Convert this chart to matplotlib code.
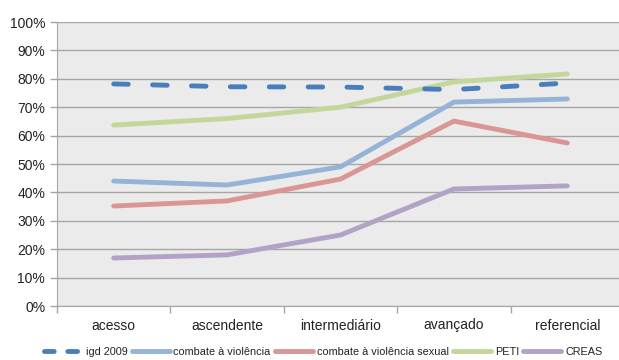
import matplotlib
matplotlib.use("Agg")
import matplotlib.pyplot as plt
from matplotlib.ticker import PercentFormatter

categories = ["acesso", "ascendente", "intermediário", "avançado", "referencial"]
igd_2009 = [0.782, 0.772, 0.771, 0.762, 0.785]
combate_violencia = [0.440, 0.426, 0.490, 0.718, 0.729]
combate_sexual = [0.352, 0.370, 0.447, 0.651, 0.574]
peti = [0.637, 0.660, 0.700, 0.789, 0.817]
creas = [0.169, 0.180, 0.250, 0.412, 0.423]
yticks = [0, 0.1, 0.2, 0.3, 0.4, 0.5, 0.6, 0.7, 0.8, 0.9, 1.0]

plt.rcParams['font.family'] = ['Liberation Sans', 'DejaVu Sans']

fig = plt.figure(figsize=(6.19, 3.6), dpi=100)
ax = fig.add_axes([57/619, 1 - 306/360, 567/619, 284/360])
ax.set_facecolor('#ebebeb')

x = list(range(len(categories)))
lw = 3.5
ax.plot(x, igd_2009, color='#4a7ebb', lw=lw, dashes=(3.0, 5.0), dash_capstyle='round',
        label='igd 2009', zorder=6)
ax.plot(x, combate_violencia, color='#95b3d7', lw=lw, solid_capstyle='round', label='combate à violência', zorder=3)
ax.plot(x, combate_sexual, color='#d99694', lw=lw, solid_capstyle='round', label='combate à violência sexual', zorder=3)
ax.plot(x, peti, color='#c3d69b', lw=lw, solid_capstyle='round', label='PETI', zorder=3)
ax.plot(x, creas, color='#b3a2c7', lw=lw, solid_capstyle='round', label='CREAS', zorder=3)

ax.set_xlim(-0.5, len(categories) - 0.5)
ax.set_ylim(0, 1.0)
ax.set_yticks(yticks)
ax.yaxis.set_major_formatter(PercentFormatter(1.0, decimals=0))
ax.grid(axis='y', color='#a6a6a6', lw=1)
ax.set_axisbelow(True)

ax.set_xticks(x)
ax.set_xticklabels(categories)
ax.set_xticks([i - 0.5 for i in range(len(categories) + 1)], minor=True)
ax.tick_params(axis='x', which='major', length=0, pad=9, labelsize=10, colors='#222222')
ax.tick_params(axis='x', which='minor', length=5, color='#a6a6a6', width=1)
ax.tick_params(axis='y', length=5, color='#a6a6a6', width=1, labelsize=10, colors='#222222')

for s in ['top', 'right']:
    ax.spines[s].set_visible(False)
ax.spines['left'].set_color('#a6a6a6')
ax.spines['bottom'].set_color('#a6a6a6')

leg = fig.legend(loc='center', bbox_to_anchor=(0.522, 0.022), ncol=5, frameon=False,
                 fontsize=7.8, handlelength=3.5, handletextpad=0.35, columnspacing=0.4,
                 borderpad=0, borderaxespad=0)
for t in leg.get_texts():
    t.set_color('#222222')
leg.get_lines()[0].set_dashes((2.0, 2.8))

fig.savefig('out.png', dpi=100)
